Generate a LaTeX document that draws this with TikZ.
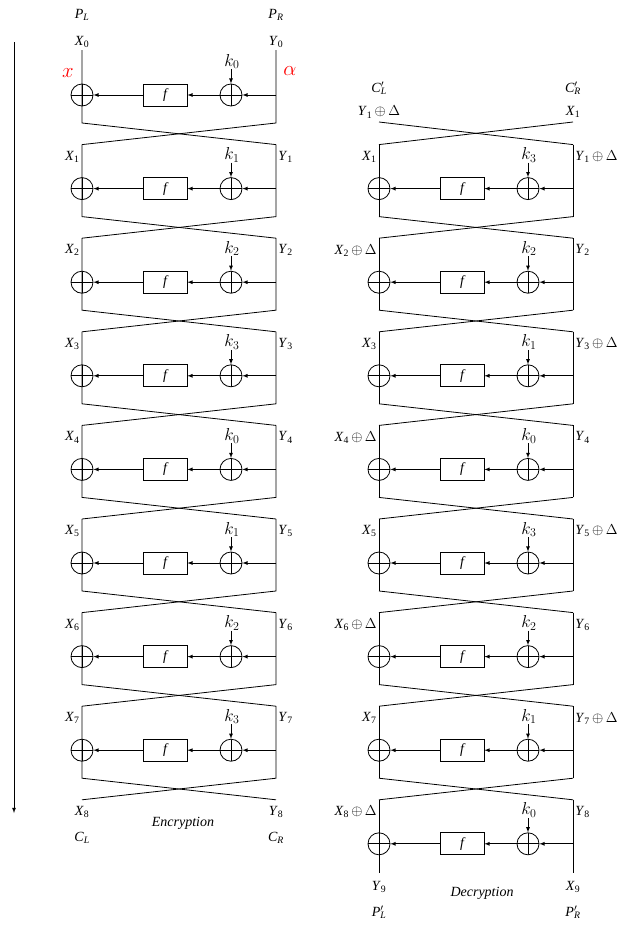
\documentclass[tikz,border=0pt]{standalone}
\usepackage{fontspec}
\setmainfont{Liberation Serif}
\usetikzlibrary{arrows}

\newcommand{\lbl}[2]{\textit{#1}\textsubscript{#2}}
\newcommand{\plbl}[2]{\textit{#1}\rlap{$'$}\textsubscript{\textit{#2}}}
\newcommand{\dplus}{\,$\oplus\,\Delta$}

\begin{document}
\begin{tikzpicture}[%
            x=1pt, y=-1pt,
            line width=0.8pt,
            >=latex,
            xorop/.style={
                draw, circle, minimum size=22pt, inner sep=0pt,
                path picture={
                    \draw (path picture bounding box.north) -- (path picture bounding box.south)
                          (path picture bounding box.west) -- (path picture bounding box.east);
                },
            },
            fbox/.style={draw, minimum width=44pt, minimum height=22pt, inner sep=0pt, font=\fontsize{14}{14}\selectfont\itshape},
            sidelab/.style={inner sep=1pt, font=\fontsize{14}{14}\selectfont},
            keylab/.style={inner sep=0pt, font=\fontsize{18}{18}\selectfont},
            redlab/.style={text=red, font=\fontsize{21}{21}\selectfont},
        ]
        \useasboundingbox (0,0) rectangle (638,927);

        % encryption
        \node[sidelab] (pl) at (82,15) {\lbl{\textit{P}}{\textit{L}}};
        \node[sidelab] (pr) at (276,15) {\lbl{\textit{P}}{\textit{R}}};
        \node[sidelab] (x0) at (82,42) {\lbl{X}{0}};
        \node[sidelab] (y0) at (276,42) {\lbl{Y}{0}};
        \node[redlab] (xin) at (68,73) {$x$};
        \node[redlab] (ain) at (290,71) {$\alpha$};

        \foreach \i/\kk in {0/0,1/1,2/2,3/3,4/0,5/1,6/2,7/3} {
            \pgfmathsetmacro{\yc}{95+93.6*\i}
            \pgfmathsetmacro{\yt}{\i==0 ? 50 : \yc-44}
            \node[xorop] (el\i) at (82,\yc) {};
            \node[fbox] (ef\i) at (165,\yc) {f};
            \node[xorop] (er\i) at (231,\yc) {};
            \node[keylab, anchor=south] (ek\i) at (232,\yc-26) {$k_{\kk}$};
            \coordinate (ein\i) at (276,\yc);
            \coordinate (elt\i) at (82,\yt);
            \coordinate (ert\i) at (276,\yt);
            \coordinate (elb\i) at (82,\yc+28);
            \coordinate (erb\i) at (276,\yc+28);
            \coordinate (elc\i) at (82,\yc+49.6);
            \coordinate (erc\i) at (276,\yc+49.6);
            \ifnum\i>0
                \node[sidelab, anchor=east] (exl\i) at (81,\yc-32) {\lbl{X}{\i}};
                \node[sidelab, anchor=west] (eyl\i) at (277,\yc-32) {\lbl{Y}{\i}};
            \fi
            \draw (elt\i) -- (elb\i) -- (erc\i);
            \draw (ert\i) -- (erb\i) -- (elc\i);
            \draw[->] (ein\i) -- (er\i);
            \draw[->] (er\i) -- (ef\i);
            \draw[->] (ef\i) -- (el\i);
            \draw[->] (er\i.north |- ek\i.south) -- (er\i);
        }

        \node[sidelab] (x8) at (82,812) {\lbl{X}{8}};
        \node[sidelab] (y8) at (276,812) {\lbl{Y}{8}};
        \node[sidelab] (cl) at (82,838) {\lbl{\textit{C}}{\textit{L}}};
        \node[sidelab] (cr) at (276,838) {\lbl{\textit{C}}{\textit{R}}};
        \node[sidelab] (enc) at (183,823) {\textit{Encryption}};

        \coordinate (ts) at (14,42);
        \coordinate (te) at (14,813);
        \draw[->] (ts) -- (te);

        % decryption
        \node[sidelab] (cpl) at (379,88) {\plbl{C}{L}};
        \node[sidelab] (cpr) at (573,88) {\plbl{C}{R}};
        \node[sidelab] (dy1) at (379,112) {\lbl{Y}{1}\dplus};
        \node[sidelab] (dx1) at (573,112) {\lbl{X}{1}};
        \coordinate (dtl) at (379,122);
        \coordinate (dtr) at (573,122);

        \foreach \j/\kk/\xl/\yl in {%
                1/3/{\lbl{X}{1}}/{\lbl{Y}{1}\dplus},
                2/2/{\lbl{X}{2}\dplus}/{\lbl{Y}{2}},
                3/1/{\lbl{X}{3}}/{\lbl{Y}{3}\dplus},
                4/0/{\lbl{X}{4}\dplus}/{\lbl{Y}{4}},
                5/3/{\lbl{X}{5}}/{\lbl{Y}{5}\dplus},
                6/2/{\lbl{X}{6}\dplus}/{\lbl{Y}{6}},
                7/1/{\lbl{X}{7}}/{\lbl{Y}{7}\dplus},
                8/0/{\lbl{X}{8}\dplus}/{\lbl{Y}{8}}} {
            \pgfmathsetmacro{\yc}{95+93.6*\j}
            \pgfmathsetmacro{\yb}{\j==8 ? 873 : \yc+28}
            \node[xorop] (dl\j) at (379,\yc) {};
            \node[fbox] (df\j) at (462,\yc) {f};
            \node[xorop] (dr\j) at (528,\yc) {};
            \node[keylab, anchor=south] (dk\j) at (529,\yc-26) {$k_{\kk}$};
            \node[sidelab, anchor=east] (dxl\j) at (378,\yc-32) {\xl};
            \node[sidelab, anchor=west] (dyl\j) at (574,\yc-32) {\yl};
            \coordinate (din\j) at (573,\yc);
            \coordinate (dlt\j) at (379,\yc-44);
            \coordinate (drt\j) at (573,\yc-44);
            \coordinate (dlb\j) at (379,\yb);
            \coordinate (drb\j) at (573,\yb);
            \coordinate (dlc\j) at (379,\yc+49.6);
            \coordinate (drc\j) at (573,\yc+49.6);
            \draw (dlt\j) -- (dlb\j);
            \draw (drt\j) -- (drb\j);
            \ifnum\j<8
                \draw (dlb\j) -- (drc\j);
                \draw (drb\j) -- (dlc\j);
            \fi
            \draw[->] (din\j) -- (dr\j);
            \draw[->] (dr\j) -- (df\j);
            \draw[->] (df\j) -- (dl\j);
            \draw[->] (dr\j.north |- dk\j.south) -- (dr\j);
        }
        \draw (dtl) -- (drt1);
        \draw (dtr) -- (dlt1);

        \node[sidelab] (dy9) at (379,887) {\lbl{Y}{9}};
        \node[sidelab] (dx9) at (573,887) {\lbl{X}{9}};
        \node[sidelab] (ppl) at (379,912) {\plbl{P}{L}};
        \node[sidelab] (ppr) at (573,912) {\plbl{P}{R}};
        \node[sidelab] (dec) at (482,893) {\textit{Decryption}};
    \end{tikzpicture}
\end{document}
